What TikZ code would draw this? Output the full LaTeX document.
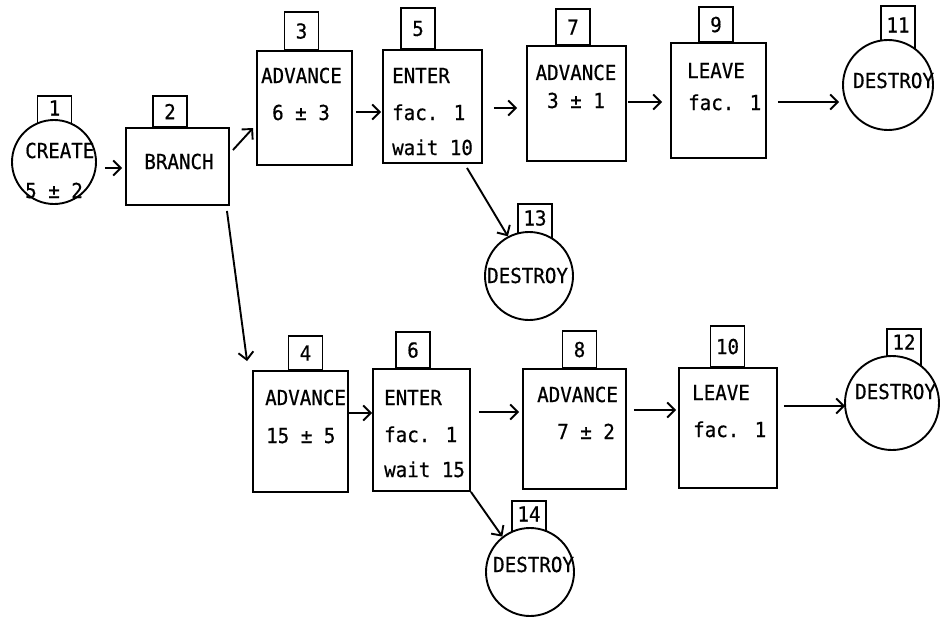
\documentclass[tikz,border=0pt]{standalone}
\usepackage{fontspec}
\newfontfamily\tw[FakeStretch=0.93,FakeBold=0.6]{DejaVu Sans Mono}
\usetikzlibrary{arrows.meta,calc}
\begin{document}
\begin{tikzpicture}[x=1pt,y=-1pt,
  font=\tw\fontsize{20.6}{24}\selectfont,
  lw/.style={line width=1.9pt},
  blk/.style={draw, lw, inner sep=0pt},
  lab/.style={draw, lw, inner sep=0pt, minimum width=34pt, fill=white},
  circ/.style={draw, circle, lw, fill=white, inner sep=0pt},
  txt/.style={inner sep=0pt},
  arr/.style={lw, -{Straight Barb[length=7.5pt,width=15pt,line width=1.9pt]}}
]
\fill[white] (0,0) rectangle (942,618);
\useasboundingbox (0,0) rectangle (942,618);

% ---------- rectangular blocks ----------
\node[blk, minimum width=103pt, minimum height=77pt]  (b2)  at (177.5,166.5) {};
\node[blk, minimum width=95pt,  minimum height=114pt] (b3)  at (304.5,108) {};
\node[blk, minimum width=99pt,  minimum height=113pt] (b5)  at (432.5,106.5) {};
\node[blk, minimum width=99pt,  minimum height=115pt] (b7)  at (576.5,103.5) {};
\node[blk, minimum width=95pt,  minimum height=115pt] (b9)  at (718.5,100.5) {};
\node[blk, minimum width=95pt,  minimum height=121pt] (b4)  at (300.5,431.5) {};
\node[blk, minimum width=97pt,  minimum height=122pt] (b6)  at (421.5,430) {};
\node[blk, minimum width=103pt, minimum height=120pt] (b8)  at (574.5,429) {};
\node[blk, minimum width=98pt,  minimum height=120pt] (b10) at (728,428) {};

% ---------- number labels on blocks ----------
\node[lab, minimum height=31pt, anchor=south] (l2)  at (170,128) {2};
\node[lab, minimum height=38pt, anchor=south] (l3)  at (301.5,51) {3};
\node[lab, minimum height=41pt, anchor=south] (l5)  at (418,50) {5};
\node[lab, minimum height=36pt, anchor=south] (l7)  at (573,46) {7};
\node[lab, minimum height=35pt, anchor=south] (l9)  at (716,43) {9};
\node[lab, minimum height=34pt, anchor=south] (l4)  at (305.5,371) {4};
\node[lab, minimum height=36pt, anchor=south] (l6)  at (413,369) {6};
\node[lab, minimum height=37pt, anchor=south] (l8)  at (579.5,369) {8};
\node[lab, minimum height=41pt, anchor=south] (l10) at (727.5,368) {10};

% ---------- number labels on circles (drawn before circles) ----------
\node[lab, minimum height=33pt, anchor=north] (l1)  at (54.5,95) {};
\node[lab, minimum height=47pt, anchor=north] (l11) at (898,5) {};
\node[lab, minimum height=39pt, anchor=north] (l13) at (535,203) {};
\node[lab, minimum height=42pt, anchor=north] (l12) at (904,328) {};
\node[lab, minimum height=36pt, anchor=north] (l14) at (529,500) {};

% ---------- circles ----------
\node[circ, minimum size=84pt] (c1)  at (54,162) {};
\node[circ, minimum size=90pt] (c11) at (888,85) {};
\node[circ, minimum size=88pt] (c13) at (529,276) {};
\node[circ, minimum size=94pt] (c12) at (892,403) {};
\node[circ, minimum size=88pt] (c14) at (530,572) {};

\node[txt] (n1)  at (54.5,108) {1};
\node[txt] (n11) at (898,25) {11};
\node[txt] (n13) at (535,218) {13};
\node[txt] (n12) at (904,342) {12};
\node[txt] (n14) at (529,514) {14};

% ---------- texts ----------
\node[txt, anchor=base west] (t1a) at (25,158) {CREATE};
\node[txt, anchor=base west] (t1b) at (25,198) {5 ± 2};
\node[txt, anchor=base] (t2) at (179,169) {BRANCH};
\node[txt, anchor=base] (t3a) at (301.5,83) {ADVANCE};
\node[txt, anchor=base] (t3b) at (301,120) {6 ± 3};
\node[txt, anchor=base west] (t5a) at (392,83) {ENTER};
\node[txt, anchor=base west] (t5b) at (392,120) {fac. 1};
\node[txt, anchor=base west] (t5c) at (392,155) {wait 10};
\node[txt, anchor=base] (t7a) at (576,80) {ADVANCE};
\node[txt, anchor=base] (t7b) at (576,108) {3 ± 1};
\node[txt, anchor=base west] (t9a) at (687,78) {LEAVE};
\node[txt, anchor=base west] (t9b) at (688,110) {fac. 1};
\node[txt, anchor=base west] (t11) at (853,88) {DESTROY};
\node[txt, anchor=base west] (t13) at (487,283) {DESTROY};
\node[txt, anchor=base west] (t4a) at (265,405) {ADVANCE};
\node[txt, anchor=base west] (t4b) at (266,443) {15 ± 5};
\node[txt, anchor=base west] (t6a) at (384,405) {ENTER};
\node[txt, anchor=base west] (t6b) at (384,442) {fac. 1};
\node[txt, anchor=base west] (t6c) at (384,477) {wait 15};
\node[txt, anchor=base west] (t8a) at (537,402) {ADVANCE};
\node[txt, anchor=base west] (t8b) at (557,439) {7 ± 2};
\node[txt, anchor=base west] (t10a) at (692,400) {LEAVE};
\node[txt, anchor=base west] (t10b) at (693,437) {fac. 1};
\node[txt, anchor=base west] (t12) at (855,399) {DESTROY};
\node[txt, anchor=base west] (t14) at (493,572) {DESTROY};

% ---------- connectors ----------
\draw[arr] ($(c1.east)+(8,6)$) -- ($(b2.west)+(-3,1.5)$);
\draw[arr] ($(b2.east)+(3,-16.5)$) -- ($(b3.west)+(-3,20)$);
\draw[arr] ($(b2.south east)+(-3,5)$) -- ($(b4.north west)+(-5,-9)$);
\draw[arr] ($(b3.east)+(3,4)$) -- ($(b5.west)+(-1,5.5)$);
\draw[arr] ($(b5.east)+(11,1.5)$) -- ($(b7.west)+(-9,4.5)$);
\draw[arr] ($(b5.south)+(34.5,4)$) -- (c13.118);
\draw[arr] ($(b7.east)+(1,-1.5)$) -- ($(b9.west)+(-8,1.5)$);
\draw[arr] ($(b9.east)+(11,1.5)$) -- ($(c11.west)+(-3,17)$);
\draw[arr] ($(b4.east)+(0,-18.5)$) -- ($(b6.west)+(0,-17)$);
\draw[arr] ($(b6.east)+(8,-18)$) -- ($(b8.west)+(-3,-17)$);
\draw[arr] (b6.south east) -- (c14.128);
\draw[arr] ($(b8.east)+(7,-19)$) -- ($(b10.west)+(-2,-18)$);
\draw[arr] ($(b10.east)+(6,-22)$) -- ($(c12.west)+(1,3)$);
\end{tikzpicture}
\end{document}
